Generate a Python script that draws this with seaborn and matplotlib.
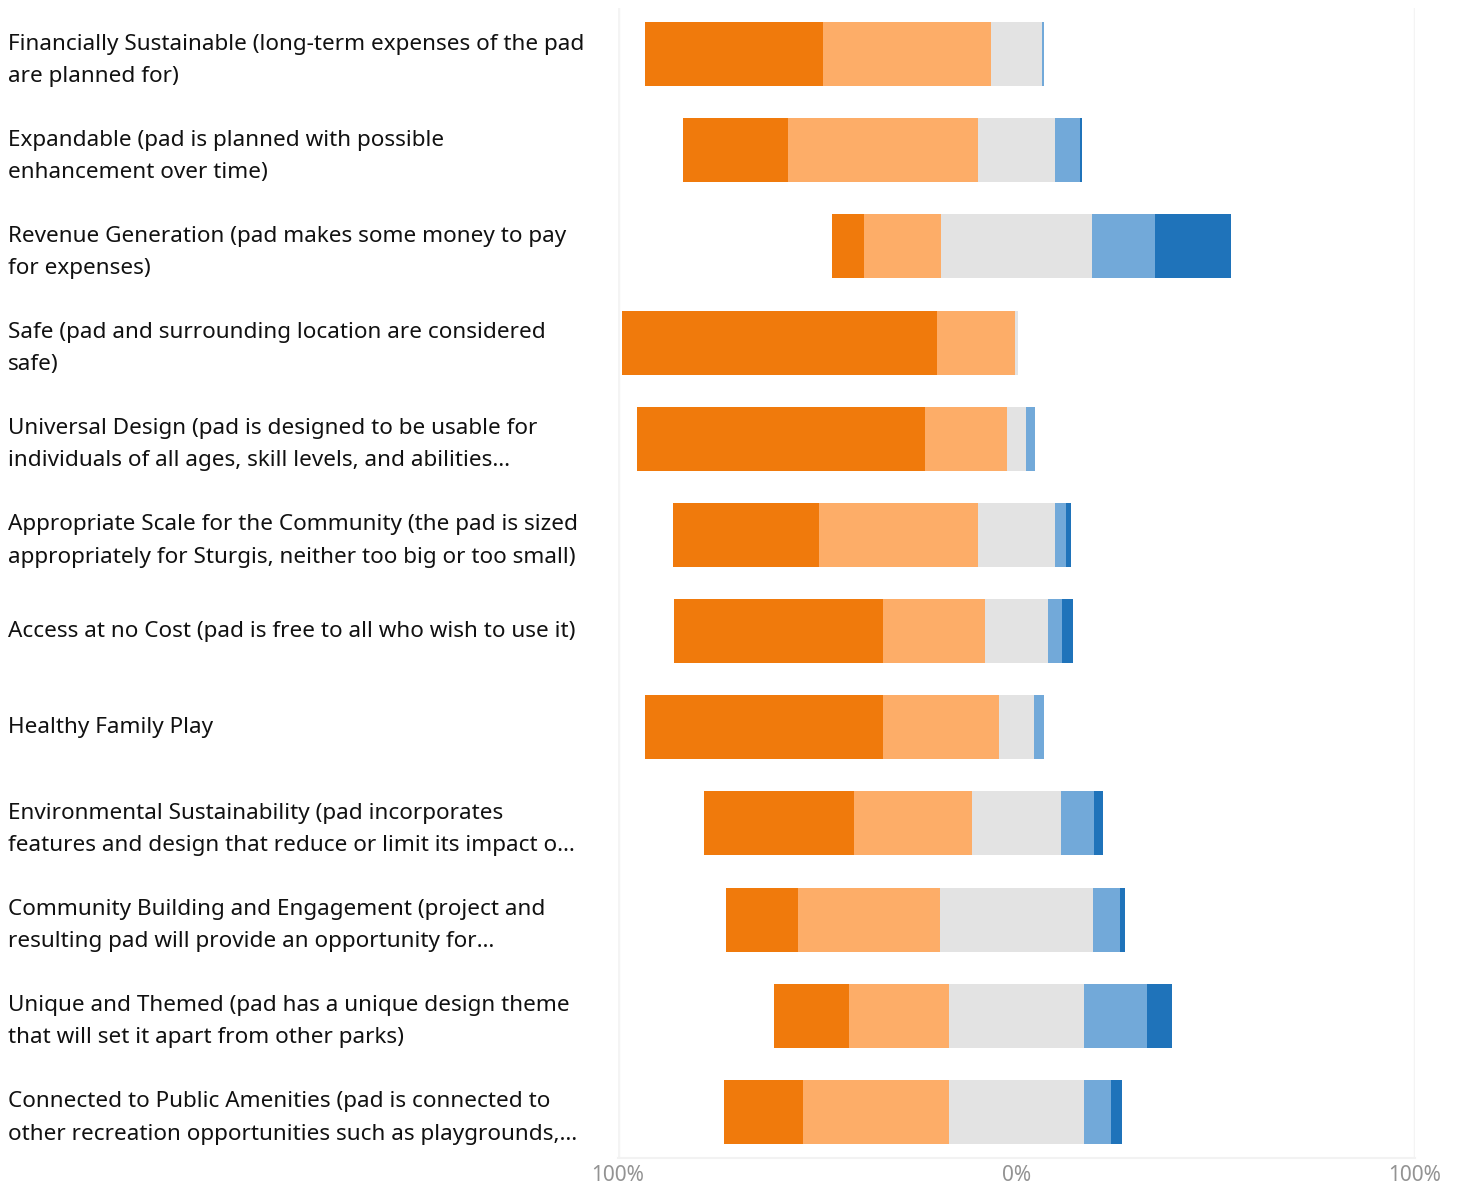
import matplotlib
matplotlib.use("Agg")
import matplotlib.pyplot as plt
import matplotlib.ticker as mticker
import matplotlib.transforms as mtransforms
import seaborn as sns
import pandas as pd

# Survey items (wrapped as displayed)
items = [
    "Financially Sustainable (long-term expenses of the pad\nare planned for)",
    "Expandable (pad is planned with possible\nenhancement over time)",
    "Revenue Generation (pad makes some money to pay\nfor expenses)",
    "Safe (pad and surrounding location are considered\nsafe)",
    "Universal Design (pad is designed to be usable for\nindividuals of all ages, skill levels, and abilities…",
    "Appropriate Scale for the Community (the pad is sized\nappropriately for Sturgis, neither too big or too small)",
    "Access at no Cost (pad is free to all who wish to use it)",
    "Healthy Family Play",
    "Environmental Sustainability (pad incorporates\nfeatures and design that reduce or limit its impact o…",
    "Community Building and Engagement (project and\nresulting pad will provide an opportunity for…",
    "Unique and Themed (pad has a unique design theme\nthat will set it apart from other parks)",
    "Connected to Public Amenities (pad is connected to\nother recreation opportunities such as playgrounds,…",
]

# Response shares in percent, from most to least important
very_important = [44.5, 26.4, 8.0, 79.0, 72.4, 36.6, 52.4, 59.5, 37.8, 18.0, 18.7, 19.9]
important      = [42.2, 47.7, 19.3, 19.5, 20.5, 40.0, 25.7, 29.3, 29.6, 35.7, 25.1, 36.6]
neutral        = [12.8, 19.1, 37.9, 1.0, 4.8, 19.2, 15.8, 8.6, 22.2, 38.3, 33.9, 33.9]
unimportant    = [0.5, 6.3, 15.8, 0.0, 2.3, 2.9, 3.6, 2.7, 8.3, 6.7, 15.7, 6.7]
very_unimportant = [0.0, 0.5, 19.1, 0.0, 0.0, 1.3, 2.7, 0.0, 2.4, 1.3, 6.4, 2.9]

tick_values = [-100, 0, 100]

c_dark_orange = "#F07A0C"
c_light_orange = "#FDAD68"
c_neutral = "#E3E3E3"
c_light_blue = "#72A9D9"
c_dark_blue = "#1F73BA"

df = pd.DataFrame({
    "item": items,
    "vi": very_important,
    "im": important,
    "ne": neutral,
    "un": unimportant,
    "vu": very_unimportant,
})
half = df["ne"] / 2
# Diverging layout: neutral centred on zero, layered bars drawn outward-first
df["left_outer"] = -(df["vi"] + df["im"] + half)
df["left_mid"] = -(df["im"] + half)
df["left_inner"] = -half
df["right_outer"] = half + df["un"] + df["vu"]
df["right_mid"] = half + df["un"]
df["right_inner"] = half

sns.set_theme(style="white")
plt.rcParams["font.family"] = ["Noto Sans", "DejaVu Sans"]

fig = plt.figure(figsize=(14.6, 11.86), dpi=100)
ax = fig.add_axes([618 / 1460, 1 - 1158 / 1186, (1415 - 618) / 1460, (1158 - 8) / 1186])

for ax_x in tick_values[::2]:
    ax.axvline(ax_x, color="#F4F4F4", lw=2.5, zorder=0)

layers = [
    ("left_outer", c_dark_orange),
    ("left_mid", c_light_orange),
    ("right_outer", c_dark_blue),
    ("right_mid", c_light_blue),
    ("left_inner", c_neutral),
    ("right_inner", c_neutral),
]
for col, color in layers:
    sns.barplot(data=df, x=col, y="item", orient="h", color=color,
                width=0.665, saturation=1, linewidth=0, ax=ax, zorder=2)

ax.set_xlim(-100, 100)
ax.set_ylim(11.48, -0.48)
ax.set_xlabel("")
ax.set_ylabel("")
ax.set_xticks(tick_values)
ax.xaxis.set_major_formatter(mticker.FuncFormatter(lambda v, _: f"{abs(v):.0f}%"))
ax.tick_params(axis="x", length=0, pad=5, labelsize=15, labelcolor="#939393")
ax.tick_params(axis="y", length=0, pad=439.5, labelsize=16.2, labelcolor="#111111")
lift = mtransforms.ScaledTranslation(0, 2 / 100, fig.dpi_scale_trans)
for lab in ax.get_yticklabels():
    lab.set_horizontalalignment("left")
    lab.set_linespacing(1.7)
    lab.set_transform(lab.get_transform() + lift)

for side in ["top", "right", "left"]:
    ax.spines[side].set_visible(False)
ax.spines["bottom"].set_color("#F2F2F2")
ax.spines["bottom"].set_linewidth(1.5)

fig.savefig("out.png", dpi=100, facecolor="white")
